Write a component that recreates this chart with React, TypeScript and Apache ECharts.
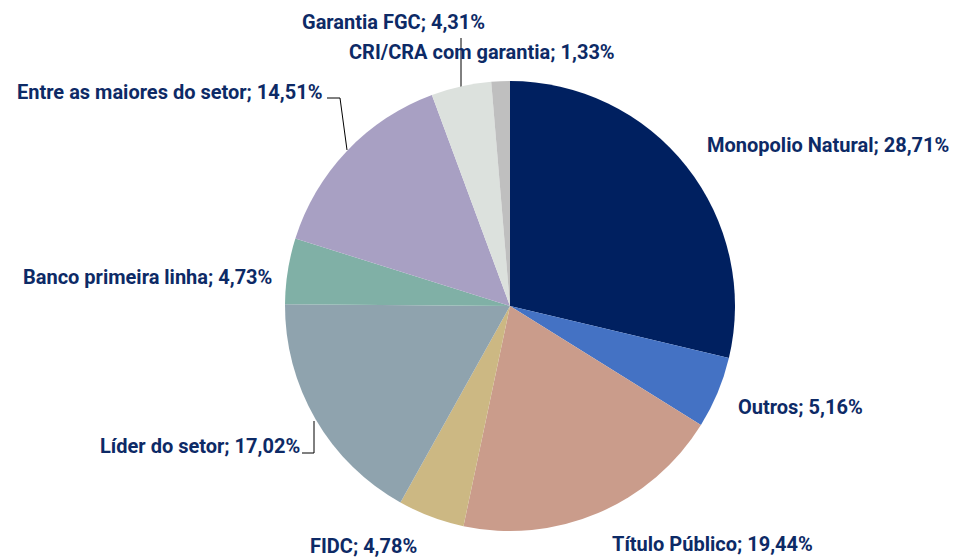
import React, { useEffect, useRef } from "react";
import * as echarts from "echarts";

const categories = [
  "Monopolio Natural",
  "Outros",
  "Título Público",
  "FIDC",
  "Líder do setor",
  "Banco primeira linha",
  "Entre as maiores do setor",
  "Garantia FGC",
  "CRI/CRA com garantia",
];
const values = [28.71, 5.16, 19.44, 4.78, 17.02, 4.73, 14.51, 4.31, 1.33];
const colors = [
  "#002060",
  "#4472C4",
  "#CA9C8B",
  "#CCB883",
  "#8FA3AE",
  "#80B0A6",
  "#A8A0C3",
  "#DCE1DD",
  "#BFBFBF",
];
const withLine = [false, false, false, false, true, false, true, true, false];

// label layout (left x, middle y) per category index
const labelPos: [number, number][] = [
  [707, 145],
  [738, 407],
  [612, 544],
  [310, 546],
  [100, 446],
  [23, 277],
  [17, 92],
  [302, 22],
  [349, 52],
];
const linePts: Record<number, number[][]> = {
  4: [[302, 453], [314, 453], [314, 421]],
  6: [[327, 98], [340, 98], [347, 150]],
  7: [[461, 38], [461, 62], [461, 87]],
};

const fmt = (v: number) => v.toFixed(2).replace(".", ",") + "%";

export default function App() {
  const ref = useRef<HTMLDivElement>(null);
  useEffect(() => {
    document.body.style.margin = "0";
    const chart = echarts.init(ref.current!, undefined, { renderer: "svg" });
    chart.setOption({
      animation: false,
      backgroundColor: "#ffffff",
      series: [
        {
          type: "pie",
          center: [510, 306],
          radius: 225,
          startAngle: 90,
          clockwise: true,
          data: categories.map((c, i) => ({
            name: c,
            value: values[i],
            itemStyle: { color: colors[i] },
            labelLine: { show: withLine[i] },
          })),
          label: {
            show: true,
            position: "outside",
            overflow: "none",
            edgeDistance: 0,
            bleedMargin: 0,
            formatter: (p: any) => `${p.name}; ${fmt(p.value)}`,
            color: "#0D2A66",
            fontFamily: "Roboto",
            fontWeight: "bold",
            fontSize: 20,
          },
          labelLine: {
            show: false,
            lineStyle: { color: "#000000", width: 1 },
          },
          labelLayout: (params: any) => {
            const i = params.dataIndex;
            const [x, y] = labelPos[i];
            const o: any = { x, y, align: "left", verticalAlign: "middle" };
            if (linePts[i]) o.labelLinePoints = linePts[i];
            return o;
          },
          emphasis: { disabled: true },
        },
      ],
    });
    return () => chart.dispose();
  }, []);
  return <div ref={ref} style={{ width: 976, height: 560 }} />;
}
